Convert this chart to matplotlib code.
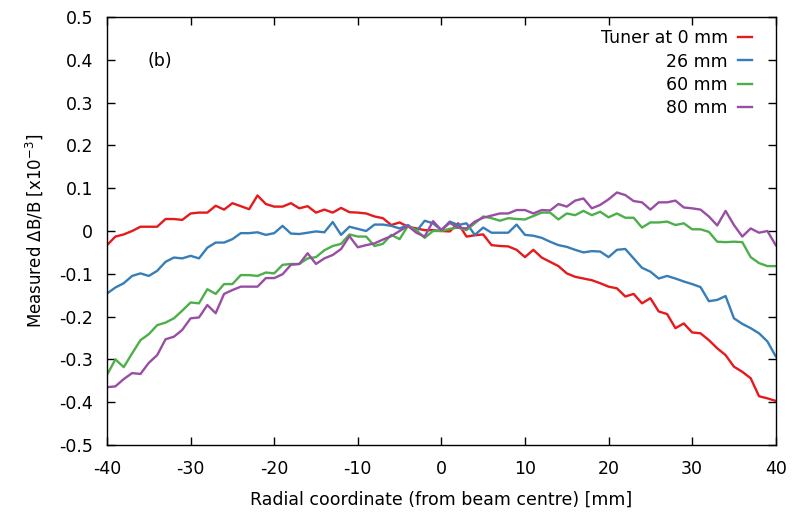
import matplotlib
matplotlib.use("Agg")
import matplotlib.pyplot as plt
import numpy as np

plt.rcParams["font.family"] = ["DejaVu Sans"]
plt.rcParams["axes.unicode_minus"] = False

# radial coordinate, 1 mm steps
radius = list(range(-40, 41))

# measured dB/B [x1e-3] for each tuner position
tuner_0 = [
    -0.033, -0.013, -0.008, 0.000, 0.010, 0.010, 0.010, 0.028, 0.028, 0.026,
    0.041, 0.043, 0.043, 0.059, 0.050, 0.065, 0.058, 0.051, 0.083, 0.063,
    0.057, 0.057, 0.065, 0.053, 0.058, 0.043, 0.050, 0.043, 0.054, 0.044,
    0.043, 0.041, 0.034, 0.030, 0.014, 0.020, 0.010, 0.006, 0.002, 0.002,
    0.000, -0.001, 0.018, -0.013, -0.010, -0.008, -0.033, -0.035, -0.036, -0.044,
    -0.061, -0.044, -0.062, -0.072, -0.082, -0.099, -0.107, -0.111, -0.115, -0.122,
    -0.130, -0.134, -0.153, -0.147, -0.169, -0.157, -0.188, -0.194, -0.227, -0.216,
    -0.237, -0.239, -0.255, -0.274, -0.290, -0.317, -0.329, -0.344, -0.386, -0.391,
    -0.397,
]
tuner_26 = [
    -0.146, -0.132, -0.122, -0.105, -0.099, -0.105, -0.093, -0.072, -0.062, -0.064,
    -0.058, -0.064, -0.039, -0.027, -0.027, -0.019, -0.005, -0.005, -0.003, -0.009,
    -0.005, 0.012, -0.006, -0.007, -0.004, -0.001, -0.003, 0.021, -0.009, 0.010,
    0.005, 0.000, 0.015, 0.015, 0.012, 0.006, 0.014, -0.001, 0.024, 0.018,
    0.002, 0.022, 0.014, 0.018, -0.009, 0.008, -0.004, -0.004, -0.004, 0.015,
    -0.009, -0.011, -0.016, -0.025, -0.033, -0.037, -0.044, -0.050, -0.047, -0.048,
    -0.061, -0.044, -0.042, -0.064, -0.086, -0.095, -0.111, -0.105, -0.111, -0.118,
    -0.124, -0.131, -0.164, -0.161, -0.152, -0.204, -0.217, -0.227, -0.239, -0.258,
    -0.293,
]
tuner_60 = [
    -0.336, -0.300, -0.318, -0.286, -0.255, -0.241, -0.220, -0.214, -0.204, -0.186,
    -0.167, -0.169, -0.136, -0.147, -0.124, -0.124, -0.103, -0.103, -0.105, -0.097,
    -0.099, -0.079, -0.077, -0.077, -0.064, -0.061, -0.045, -0.035, -0.030, -0.008,
    -0.013, -0.013, -0.035, -0.030, -0.009, -0.019, 0.012, 0.002, -0.016, 0.000,
    0.000, 0.005, 0.008, 0.002, 0.018, 0.034, 0.030, 0.024, 0.030, 0.028,
    0.027, 0.035, 0.043, 0.043, 0.027, 0.041, 0.037, 0.047, 0.037, 0.045,
    0.032, 0.041, 0.031, 0.031, 0.008, 0.020, 0.020, 0.022, 0.014, 0.018,
    0.004, 0.004, -0.002, -0.025, -0.026, -0.025, -0.026, -0.061, -0.075, -0.082,
    -0.082,
]
tuner_80 = [
    -0.365, -0.363, -0.346, -0.332, -0.334, -0.308, -0.290, -0.253, -0.247, -0.231,
    -0.204, -0.202, -0.173, -0.192, -0.147, -0.138, -0.130, -0.130, -0.130, -0.110,
    -0.110, -0.101, -0.079, -0.077, -0.052, -0.077, -0.064, -0.056, -0.042, -0.012,
    -0.038, -0.033, -0.029, -0.020, -0.012, 0.000, 0.012, -0.004, -0.013, 0.023,
    0.002, 0.019, 0.008, 0.006, 0.022, 0.031, 0.036, 0.041, 0.041, 0.049,
    0.049, 0.041, 0.049, 0.048, 0.063, 0.057, 0.071, 0.076, 0.053, 0.061,
    0.074, 0.090, 0.084, 0.070, 0.067, 0.050, 0.067, 0.067, 0.071, 0.055,
    0.053, 0.050, 0.034, 0.013, 0.047, 0.014, -0.013, 0.006, -0.004, 0.000,
    -0.033,
]

labels = ["Tuner at 0 mm", "26 mm", "60 mm", "80 mm"]
colors = ["#e41a1c", "#377eb8", "#4daf4a", "#984ea3"]

fig = plt.figure(figsize=(7.94, 5.19), dpi=100)
ax = fig.add_axes([0.1348, 0.1426, 0.8422, 0.8246])

for series, lab, col in zip([tuner_0, tuner_26, tuner_60, tuner_80], labels, colors):
    ax.plot(radius, series, color=col, lw=1.7, label=lab)

ax.set_xlim(-40, 40)
ax.set_ylim(-0.5, 0.5)
ax.set_xticks(np.arange(-40, 41, 10))
ax.set_yticks(np.arange(-0.5, 0.51, 0.1))
ax.set_yticklabels(["-0.5", "-0.4", "-0.3", "-0.2", "-0.1", "0",
                    "0.1", "0.2", "0.3", "0.4", "0.5"])
ax.tick_params(direction="in", top=True, right=True, length=6, width=1,
               labelsize=12.5)
ax.tick_params(axis="x", pad=11)
ax.tick_params(axis="y", pad=10)
for s in ax.spines.values():
    s.set_linewidth(1)

ax.set_xlabel("Radial coordinate (from beam centre) [mm]", fontsize=12.5, labelpad=9)
ax.set_ylabel("Measured ΔB/B [x10$^{-3}$]", fontsize=12, labelpad=10)

ax.text(0.061, 0.897, "(b)", transform=ax.transAxes, fontsize=12.5, va="center")

leg = ax.legend(loc="upper right", bbox_to_anchor=(1, 1.026), frameon=False,
                markerfirst=False, fontsize=12.5, handlelength=0.85,
                handletextpad=0.57, labelspacing=0.3, borderaxespad=0.95)

fig.savefig("out.png", dpi=100)
